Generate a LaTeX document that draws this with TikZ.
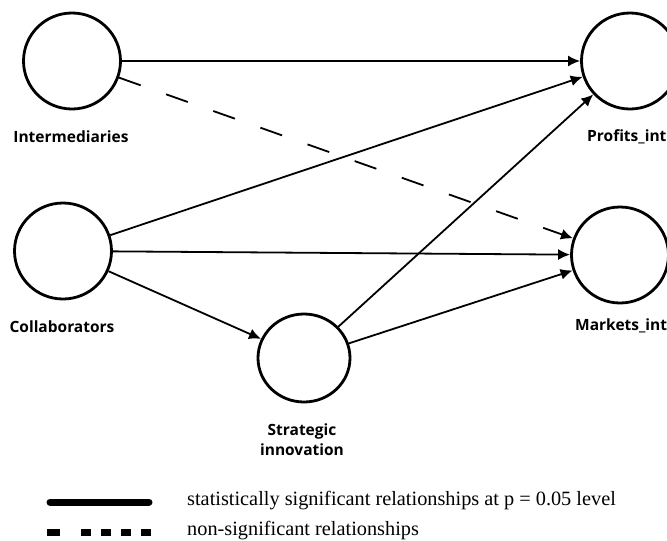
\documentclass[tikz,border=0pt]{standalone}
\usepackage{fontspec}
\setmainfont{Liberation Serif}
\newfontfamily\labelfont{Open Sans}
\usetikzlibrary{arrows.meta,shapes.geometric}
\begin{document}
\begin{tikzpicture}[x=1pt,y=-1pt,
	latent/.style={draw,ellipse,line width=2.8pt,minimum width=97pt,minimum height=96pt,inner sep=0pt},
	effect/.style={line width=1.8pt,-{Latex[length=12pt,width=11pt]}},
	nonsig/.style={effect,dash pattern=on 23pt off 27pt},
	caption/.style={font=\labelfont\bfseries\fontsize{15.5}{20}\selectfont,align=center,inner sep=0pt},
	legendtext/.style={font=\fontsize{20.3}{22}\selectfont,anchor=west,inner sep=0pt}]
	\useasboundingbox (0,0) rectangle (667,541);
	\clip (0,0) rectangle (667,541);
	\node[latent] (inter) at (72,61) {};
	\node[latent] (collab) at (63,251) {};
	\node[latent,minimum width=92pt,minimum height=88pt] (strat) at (304,358) {};
	\node[latent] (profits) at (630,61) {};
	\node[latent] (markets) at (620,255) {};
	\node[caption] (interlabel) at (71,137) {Intermediaries};
	\node[caption] (collablabel) at (62,327) {Collaborators};
	\node[caption] (stratlabel) at (302,440) {Strategic\\innovation};
	\node[caption,anchor=west] (profitslabel) at (587,137) {Profits\_int};
	\node[caption,anchor=west] (marketslabel) at (575,326) {Markets\_int};
	\draw[effect] (inter) -- (profits);
	\draw[nonsig] (inter) -- (markets);
	\draw[effect] (collab) -- (profits);
	\draw[effect] (collab) -- (markets);
	\draw[effect] (collab) -- (strat);
	\draw[effect] (strat) -- (profits);
	\draw[effect] (strat) -- (markets);
	\coordinate (solidA) at (50,502);
	\coordinate (solidB) at (149,502);
	\coordinate (dashA) at (47,532);
	\coordinate (dashB) at (151,532);
	\draw[line width=7pt,line cap=round] (solidA) -- (solidB);
	\draw[line width=7pt,dash pattern=on 13pt off 21pt on 10pt off 10pt on 10pt off 10pt on 10pt off 10pt on 10pt off 50pt] (dashA) -- (dashB);
	\node[legendtext] (sigtext) at (187,501) {statistically significant relationships at p = 0.05 level};
	\node[legendtext] (nonsigtext) at (187,531) {non-significant relationships};
\end{tikzpicture}
\end{document}
